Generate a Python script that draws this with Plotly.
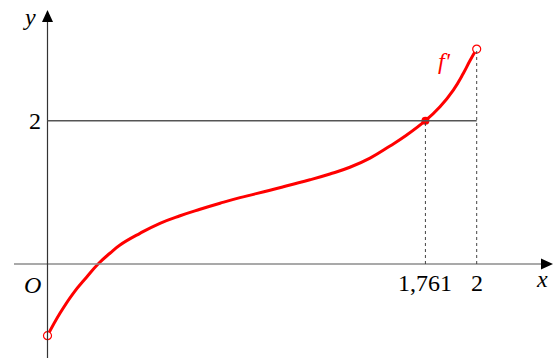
import plotly.graph_objects as go

# Sampled points of f'(x) on [0, 2]
x_vals = [0.0, 0.058, 0.120, 0.183, 0.238, 0.291, 0.338, 0.431, 0.524, 0.618, 0.711,
          0.804, 0.897, 1.037, 1.130, 1.223, 1.316, 1.409, 1.503, 1.596, 1.674,
          1.761, 1.829, 1.891, 1.938, 1.969, 2.0]
y_vals = [-1.0, -0.688, -0.409, -0.181, 0.007, 0.150, 0.265, 0.428, 0.568, 0.674, 0.764,
          0.848, 0.926, 1.029, 1.103, 1.175, 1.256, 1.350, 1.478, 1.647, 1.800,
          2.0, 2.195, 2.428, 2.662, 2.840, 3.0]

x_root = 1.761
y_level = 2
x_end = 2
x_tick_labels = ["1,761", "2"]

# pixel scale of the drawing (px per unit)
W, H = 560, 358
ox, oy = 47.5, 264.0
sx, sy = 214.6, 71.65
x_range = [-ox / sx, (W - ox) / sx]
y_range = [-(H - oy) / sy, oy / sy]


def px_x(p):
    return (p - ox) / sx


def px_y(p):
    return (oy - p) / sy


fig = go.Figure()

shapes = []
# x axis
shapes.append(dict(type="line", x0=px_x(14), x1=px_x(543), y0=0, y1=0,
                   line=dict(color="#8c8c8c", width=1.5)))
shapes.append(dict(type="path",
                   path=f"M {px_x(553)} 0 L {px_x(541)} {5.5/sy} L {px_x(541)} {-5.5/sy} Z",
                   fillcolor="black", line=dict(color="black", width=0)))
# y axis
shapes.append(dict(type="line", x0=0, x1=0, y0=px_y(H), y1=px_y(20),
                   line=dict(color="#333333", width=1.2)))
shapes.append(dict(type="path",
                   path=f"M 0 {px_y(10)} L {5.5/sx} {px_y(22)} L {-5.5/sx} {px_y(22)} Z",
                   fillcolor="black", line=dict(color="black", width=0)))
# horizontal level y = 2
shapes.append(dict(type="line", x0=0, x1=x_end, y0=y_level, y1=y_level,
                   line=dict(color="#555555", width=1.5)))
# dotted guides
shapes.append(dict(type="line", x0=x_root, x1=x_root, y0=0, y1=y_level,
                   line=dict(color="#444444", width=1, dash="dot")))
shapes.append(dict(type="line", x0=x_end, x1=x_end, y0=0, y1=y_vals[-1],
                   line=dict(color="#444444", width=1, dash="dot")))

fig.add_trace(go.Scatter(x=x_vals, y=y_vals, mode="lines",
                         line=dict(color="#ff0000", width=3, shape="spline", smoothing=1.3),
                         hoverinfo="skip"))
# open end points
fig.add_trace(go.Scatter(x=[x_vals[0], x_vals[-1]], y=[y_vals[0], y_vals[-1]], mode="markers",
                         marker=dict(size=8, color="white", line=dict(color="#ff0000", width=1.2)),
                         hoverinfo="skip"))
# intersection point
fig.add_trace(go.Scatter(x=[x_root], y=[y_level], mode="markers",
                         marker=dict(size=8, color="#ff0000"), hoverinfo="skip"))

serif = "Liberation Serif, Times New Roman, Times, serif"
ann = []
ann.append(dict(x=px_x(29), y=px_y(17), text="<i>y</i>", font=dict(family=serif, size=24, color="black")))
ann.append(dict(x=px_x(35), y=px_y(121), text="2", font=dict(family=serif, size=24, color="black")))
ann.append(dict(x=px_x(32), y=px_y(285), text="<i>O</i>", font=dict(family=serif, size=24, color="black")))
ann.append(dict(x=x_root, y=px_y(283), text=x_tick_labels[0], font=dict(family=serif, size=24, color="black")))
ann.append(dict(x=x_end, y=px_y(283), text=x_tick_labels[1], font=dict(family=serif, size=24, color="black")))
ann.append(dict(x=px_x(542), y=px_y(279), text="<i>x</i>", font=dict(family=serif, size=24, color="black")))
ann.append(dict(x=px_x(444), y=px_y(61), text="<i>f'</i>", font=dict(family=serif, size=24, color="#ff0000")))
for a in ann:
    a.update(showarrow=False, xanchor="center", yanchor="middle")

fig.update_layout(
    width=W, height=H,
    margin=dict(l=0, r=0, t=0, b=0),
    paper_bgcolor="white", plot_bgcolor="white",
    showlegend=False,
    xaxis=dict(range=x_range, visible=False, fixedrange=True),
    yaxis=dict(range=y_range, visible=False, fixedrange=True),
    shapes=shapes,
    annotations=ann,
)

fig.write_html("out.html", config={"displayModeBar": False})
